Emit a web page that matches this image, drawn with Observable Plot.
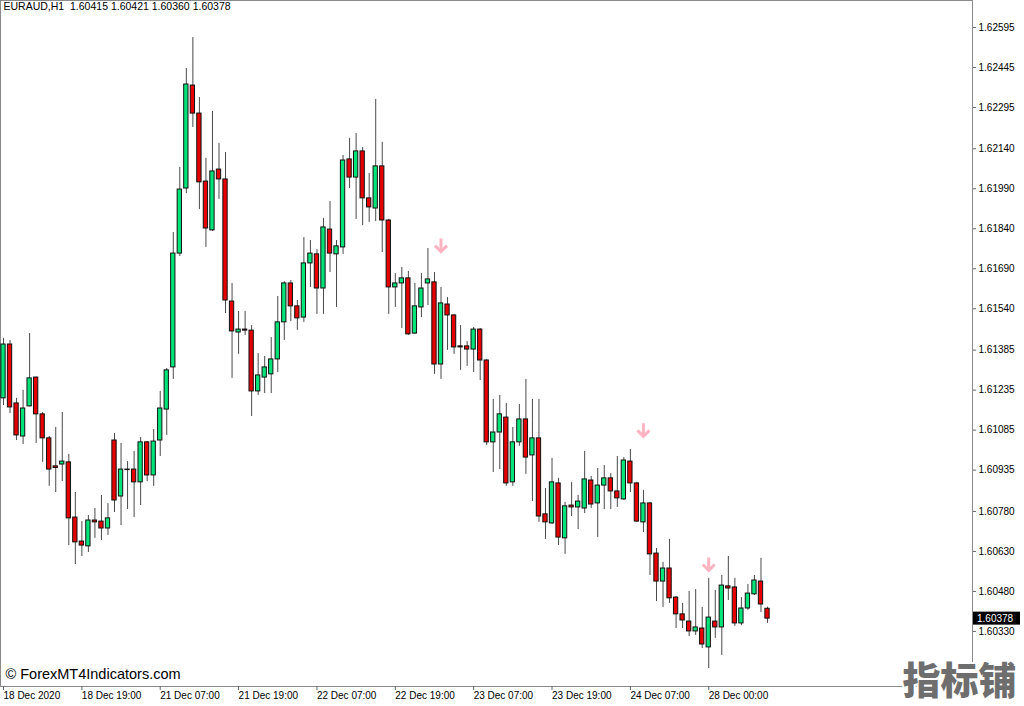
<!DOCTYPE html>
<html>
<head>
<meta charset="utf-8">
<script src="https://cdn.jsdelivr.net/npm/d3@7"></script>
<script src="https://cdn.jsdelivr.net/npm/@observablehq/plot@0.6"></script>
<style>
  html, body { margin: 0; padding: 0; background: #fff; }
  #chart svg { display: block; }
</style>
</head>
<body>
<div id="chart"></div>
<script>
const symbolName = "EURAUD,H1";
const open = [1.61204,1.61406,1.61185,1.61061,1.61174,1.61282,1.61144,1.61054,1.60949,1.60956,
1.60964,1.60757,1.60667,1.60649,1.60746,1.60742,1.60716,1.61046,1.60836,1.60937,
1.60937,1.60889,1.61039,1.60915,1.61046,1.61162,1.61320,1.61747,1.61991,1.62377,
1.62272,1.62017,1.61834,1.62062,1.62025,1.61567,1.61451,1.61462,1.61458,1.61230,
1.61282,1.61294,1.61350,1.61489,1.61635,1.61549,1.61507,1.61710,1.61744,1.61616,
1.61837,1.61744,1.61770,1.62100,1.62032,1.62130,1.61954,1.61916,1.62074,1.61871,
1.61620,1.61635,1.61654,1.61447,1.61545,1.61635,1.61639,1.61331,1.61556,1.61515,
1.61399,1.61399,1.61387,1.61462,1.61346,1.61039,1.61076,1.61132,1.60889,1.61039,
1.61125,1.60990,1.61054,1.60769,1.60735,1.60885,1.60679,1.60802,1.60795,1.60791,
1.60896,1.60810,1.60877,1.60904,1.60855,1.60825,1.60967,1.60885,1.60739,1.60810,
1.60622,1.60517,1.60566,1.60457,1.60394,1.60367,1.60330,1.60341,1.60270,1.60367,
1.60345,1.60499,1.60495,1.60360,1.60416,1.60469,1.60517,1.60415];
const high = [1.61429,1.61421,1.61204,1.61234,1.61447,1.61284,1.61151,1.61061,1.61095,1.61151,
1.60994,1.60851,1.60742,1.60765,1.60791,1.60840,1.60810,1.61072,1.61035,1.60967,
1.61005,1.61057,1.61042,1.61087,1.61230,1.61316,1.61826,1.62070,1.62441,1.62557,
1.62332,1.62104,1.62280,1.62160,1.62126,1.61635,1.61530,1.61530,1.61477,1.61372,
1.61361,1.61432,1.61586,1.61642,1.61646,1.61571,1.61807,1.61796,1.61762,1.61879,
1.61942,1.61796,1.62115,1.62179,1.62197,1.62145,1.62047,1.62325,1.62164,1.61875,
1.61672,1.61695,1.61680,1.61635,1.61672,1.61766,1.61676,1.61620,1.61582,1.61519,
1.61477,1.61417,1.61470,1.61466,1.61350,1.61200,1.61215,1.61185,1.61095,1.61181,
1.61275,1.61200,1.61200,1.60866,1.60979,1.60904,1.60814,1.60889,1.60840,1.61005,
1.60911,1.60941,1.60952,1.60922,1.60986,1.60982,1.61012,1.60889,1.60859,1.60814,
1.60641,1.60589,1.60675,1.60461,1.60435,1.60480,1.60487,1.60420,1.60529,1.60484,
1.60540,1.60611,1.60529,1.60457,1.60506,1.60540,1.60604,1.60421];
const low = [1.61177,1.61147,1.61046,1.61031,1.61172,1.61035,1.60964,1.60874,1.60851,1.60892,
1.60652,1.60581,1.60611,1.60626,1.60679,1.60671,1.60690,1.60776,1.60727,1.60787,
1.60757,1.60802,1.60892,1.60874,1.60986,1.61065,1.61275,1.61736,1.61972,1.62220,
1.61912,1.61770,1.61830,1.61950,1.61522,1.61279,1.61369,1.61440,1.61136,1.61215,
1.61222,1.61222,1.61301,1.61421,1.61492,1.61459,1.61489,1.61620,1.61519,1.61519,
1.61676,1.61545,1.61744,1.61991,1.61875,1.61852,1.61864,1.61867,1.61751,1.61519,
1.61545,1.61466,1.61440,1.61444,1.61507,1.61552,1.61294,1.61275,1.61384,1.61369,
1.61309,1.61324,1.61301,1.61271,1.61027,1.60926,1.60937,1.60874,1.60874,1.61024,
1.60919,1.60817,1.60739,1.60675,1.60731,1.60652,1.60619,1.60761,1.60712,1.60772,
1.60791,1.60682,1.60787,1.60787,1.60795,1.60821,1.60851,1.60739,1.60701,1.60540,
1.60442,1.60420,1.60435,1.60341,1.60341,1.60311,1.60315,1.60266,1.60191,1.60304,
1.60240,1.60446,1.60349,1.60352,1.60409,1.60465,1.60401,1.60360];
const close = [1.61406,1.61170,1.61065,1.61166,1.61279,1.61144,1.61054,1.60937,1.60943,1.60967,
1.60754,1.60664,1.60652,1.60746,1.60739,1.60716,1.60754,1.60821,1.60937,1.60935,
1.60889,1.61039,1.60915,1.61042,1.61166,1.61309,1.61747,1.61987,1.62381,1.62272,
1.62014,1.61841,1.62055,1.62025,1.61571,1.61455,1.61462,1.61458,1.61230,1.61290,
1.61320,1.61350,1.61489,1.61635,1.61549,1.61504,1.61710,1.61747,1.61616,1.61845,
1.61747,1.61774,1.62096,1.62032,1.62130,1.61954,1.61920,1.62074,1.61871,1.61620,
1.61635,1.61654,1.61444,1.61549,1.61616,1.61650,1.61331,1.61560,1.61515,1.61395,
1.61395,1.61387,1.61462,1.61346,1.61039,1.61076,1.61144,1.60885,1.61039,1.61125,
1.60982,1.61054,1.60761,1.60739,1.60889,1.60682,1.60799,1.60795,1.60817,1.60900,
1.60806,1.60877,1.60904,1.60855,1.60829,1.60971,1.60885,1.60742,1.60810,1.60619,
1.60517,1.60566,1.60454,1.60394,1.60371,1.60330,1.60345,1.60281,1.60382,1.60345,
1.60502,1.60491,1.60360,1.60416,1.60472,1.60521,1.60431,1.60378];

const xTickBars = [0,12,24,36,48,60,72,84,96,108];
const xTickLabels = ["18 Dec 2020","18 Dec 19:00","21 Dec 07:00","21 Dec 19:00","22 Dec 07:00",
  "22 Dec 19:00","23 Dec 07:00","23 Dec 19:00","24 Dec 07:00","28 Dec 00:00"];
const yTicks = [1.62595,1.62445,1.62295,1.62140,1.61990,1.61840,1.61690,1.61540,1.61385,
  1.61235,1.61085,1.60935,1.60780,1.60630,1.60480,1.60330,1.60180];
const arrowBars = [67, 98, 108];
const arrowPrices = [1.61777, 1.61084, 1.60581];

const bars = open.map((o, i) => ({i, o, h: high[i], l: low[i], c: close[i]}));
const arrows = arrowBars.map((b, k) => ({i: b, p: arrowPrices[k]}));
const last = bars[bars.length - 1];
const title = `${symbolName}  ${last.o.toFixed(5)} ${last.h.toFixed(5)} ${last.l.toFixed(5)} ${last.c.toFixed(5)}`;

const GREEN = "#00e47a", RED = "#e60000";
const arrowSymbol = {
  draw(ctx) {
    ctx.moveTo(0, -7); ctx.lineTo(0, 6);
    ctx.moveTo(-6, 0); ctx.lineTo(0, 6); ctx.lineTo(6, 0);
  }
};
const FONT = "'Liberation Sans', Arial, sans-serif";

const chart = Plot.plot({
  width: 1024,
  height: 706,
  marginLeft: 0,
  marginRight: 52,
  marginTop: 0,
  marginBottom: 20,
  style: {fontFamily: FONT, fontSize: "10px", background: "#fff", color: "#000", overflow: "visible"},
  x: {type: "linear", domain: [-0.4594, 148.392], range: [0, 972], axis: null},
  y: {type: "linear", domain: [1.601235, 1.62696], range: [686, 0], axis: null},
  marks: [
    Plot.frame({stroke: "#8a8a8a"}),
    Plot.ruleX(bars, {x: "i", y1: "l", y2: "h", stroke: "#4a4a4a", strokeWidth: 1}),
    Plot.rect(bars, {
      x1: d => d.i - 0.33, x2: d => d.i + 0.33,
      y1: "o", y2: "c",
      fill: d => d.c >= d.o ? GREEN : RED,
      stroke: "#111", strokeWidth: 1
    }),
    Plot.dot(arrows, {x: "i", y: "p", symbol: arrowSymbol, fill: "none", stroke: "#ffb3c3", strokeWidth: 3, r: 6}),
    Plot.axisY(yTicks, {anchor: "right", tickSize: 3, tickPadding: 3, stroke: "#666", fill: "#000",
      tickFormat: d => d.toFixed(5), fontSize: 10, label: null}),
    Plot.axisX(xTickBars, {anchor: "bottom", tickSize: 4, tickPadding: 1, textAnchor: "start", dx: 0,
      stroke: "#666", fill: "#000", fontSize: 10, label: null,
      tickFormat: d => xTickLabels[xTickBars.indexOf(d)]}),
    Plot.text([title], {frameAnchor: "top-left", text: d => d, textAnchor: "start", lineAnchor: "top",
      dx: 3, dy: 2, fontSize: 10.5, fill: "#000"}),
    Plot.text(["© ForexMT4Indicators.com"], {frameAnchor: "bottom-left", text: d => d, textAnchor: "start",
      lineAnchor: "middle", dx: 5, dy: -12, fontSize: 14.5, fill: "#000"}),
    Plot.text(["指标铺"], {frameAnchor: "bottom-right", text: d => d, textAnchor: "end", lineAnchor: "middle",
      dx: 44, dy: -5, fontSize: 38, fontWeight: 900, fontFamily: "'Noto Sans CJK SC', sans-serif",
      fill: "#6e6e6e", stroke: "#fff", strokeWidth: 4})
  ]
});

// current price tag on the price axis
const ys = chart.scale("y");
const yLast = ys.apply(last.c);
const ns = "http://www.w3.org/2000/svg";
const g = document.createElementNS(ns, "g");
const r = document.createElementNS(ns, "rect");
r.setAttribute("x", 973); r.setAttribute("y", yLast - 6.5);
r.setAttribute("width", 47); r.setAttribute("height", 13); r.setAttribute("fill", "#000");
const t = document.createElementNS(ns, "text");
t.setAttribute("x", 977); t.setAttribute("y", yLast); t.setAttribute("dy", "0.35em");
t.setAttribute("text-anchor", "start");
t.setAttribute("fill", "#fff"); t.setAttribute("font-size", "10"); t.setAttribute("font-family", FONT);
t.textContent = last.c.toFixed(5);
g.appendChild(r); g.appendChild(t);
chart.appendChild(g);

document.getElementById("chart").appendChild(chart);
</script>
</body>
</html>
